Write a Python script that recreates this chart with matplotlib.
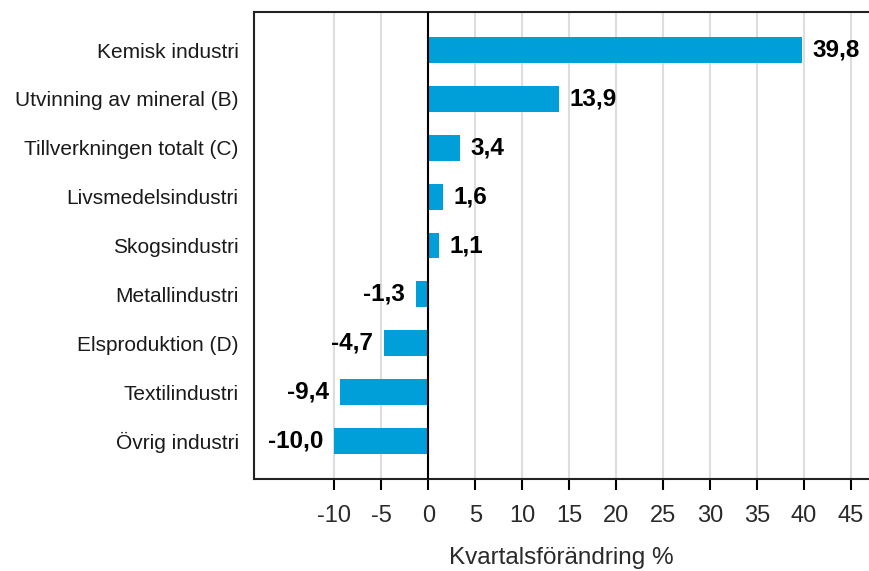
import numpy as np
import matplotlib.pyplot as plt

# dados do grafico
categorias = ['Kemisk industri', 'Utvinning av mineral (B)', 'Tillverkningen totalt (C)',
              'Livsmedelsindustri', 'Skogsindustri', 'Metallindustri',
              'Elsproduktion (D)', 'Textilindustri', 'Övrig industri']
valores = [39.8, 13.9, 3.4, 1.6, 1.1, -1.3, -4.7, -9.4, -10.0]
ticks_x = [-10, -5, 0, 5, 10, 15, 20, 25, 30, 35, 40, 45]

plt.rcParams['font.family'] = ['Liberation Sans', 'DejaVu Sans']

fig = plt.figure(figsize=(8.69, 5.71), dpi=100)
ax = fig.add_axes([254 / 869, 1 - 479 / 571, 615 / 869, 467 / 571])

y = np.arange(len(categorias))
ax.barh(y, valores, height=0.53, color='#009fda', zorder=3)

# rotulos dos valores
for yi, v in zip(y, valores):
    txt = f'{v:.1f}'.replace('.', ',')
    if v >= 0:
        ax.annotate(txt, (v, yi), xytext=(7.5, 0), textcoords='offset points',
                    ha='left', va='center', fontsize=17.5, fontweight='bold')
    else:
        ax.annotate(txt, (v, yi), xytext=(-8, 0), textcoords='offset points',
                    ha='right', va='center', fontsize=17.5, fontweight='bold')

ax.set_xlim(-18.56, 46.93)
ax.set_ylim(len(categorias) - 1 + 0.78, -0.78)
ax.set_yticks(y)
ax.set_yticklabels(categorias, fontsize=15, color='#1a1a1a')
ax.tick_params(axis='y', length=0, pad=11)

ax.set_xticks(ticks_x)
ax.set_xticklabels([str(t) for t in ticks_x], fontsize=17, color='#2a2a2a')
ax.tick_params(axis='x', length=8, width=1.5, pad=11, direction='out')

for t in ticks_x:
    ax.axvline(t, color='#dddddd', linewidth=1.5, zorder=1)
ax.axvline(0, color='black', linewidth=1.5, zorder=4)

ax.spines['right'].set_visible(False)
for s in ['left', 'top', 'bottom']:
    ax.spines[s].set_linewidth(1.5)
    ax.spines[s].set_color('#222222')

ax.set_xlabel('Kvartalsförändring %', fontsize=17.5, color='#2a2a2a', labelpad=14)

fig.savefig('out.png', dpi=100)
